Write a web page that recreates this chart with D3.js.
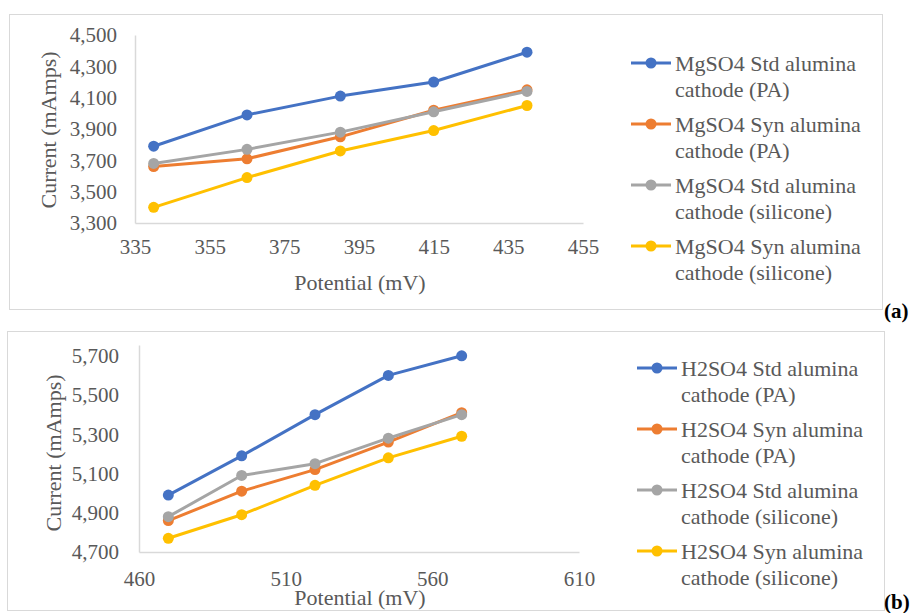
<!DOCTYPE html>
<html>
<head>
<meta charset="utf-8">
<script src="https://cdn.jsdelivr.net/npm/d3@7"></script>
<style>
  body { margin: 0; background: #fff; }
  svg { display: block; }
  svg text { font-family: "Liberation Serif", "Times New Roman", Tinos, "DejaVu Serif", serif !important; }
</style>
</head>
<body>
<div id="chart"></div>
<script>
// DATA
const colors = ["#4472C4", "#ED7D31", "#A5A5A5", "#FFC000"];

// (a) MgSO4
const mgPotential = [340, 365, 390, 415, 440];
const mgNames = [
  ["MgSO4 Std alumina", "cathode (PA)"],
  ["MgSO4 Syn alumina", "cathode (PA)"],
  ["MgSO4 Std alumina", "cathode (silicone)"],
  ["MgSO4 Syn alumina", "cathode (silicone)"]
];
const mgStdPA = [3790, 3990, 4110, 4200, 4390];
const mgSynPA = [3660, 3710, 3850, 4020, 4150];
const mgStdSil = [3680, 3770, 3880, 4010, 4140];
const mgSynSil = [3400, 3590, 3760, 3890, 4050];
const mgXTicks = [335, 355, 375, 395, 415, 435, 455];
const mgYTicks = [3300, 3500, 3700, 3900, 4100, 4300, 4500];

// (b) H2SO4
const hPotential = [470, 495, 520, 545, 570];
const hNames = [
  ["H2SO4 Std alumina", "cathode (PA)"],
  ["H2SO4 Syn alumina", "cathode (PA)"],
  ["H2SO4 Std alumina", "cathode (silicone)"],
  ["H2SO4 Syn alumina", "cathode (silicone)"]
];
const hStdPA = [4990, 5190, 5400, 5600, 5700];
const hSynPA = [4860, 5010, 5120, 5260, 5410];
const hStdSil = [4880, 5090, 5150, 5280, 5400];
const hSynSil = [4770, 4890, 5040, 5180, 5290];
const hXTicks = [460, 510, 560, 610];
const hYTicks = [4700, 4900, 5100, 5300, 5500, 5700];

const width = 914, height = 613;
const textColor = "#595959";

const svg = d3.select("#chart").append("svg")
  .attr("width", width)
  .attr("height", height);

function drawPanel(cfg) {
  const g = svg.append("g");

  // frame
  g.append("rect")
    .attr("x", cfg.box[0] + 0.5).attr("y", cfg.box[1] + 0.5)
    .attr("width", cfg.box[2] - cfg.box[0]).attr("height", cfg.box[3] - cfg.box[1])
    .attr("fill", "#fff").attr("stroke", "#d9d9d9").attr("stroke-width", 1);

  const x = d3.scaleLinear(cfg.xDomain, [cfg.plot.left, cfg.plot.right]);
  const y = d3.scaleLinear(cfg.yDomain, [cfg.plot.bottom, cfg.plot.top]);

  // axes
  g.append("g")
    .attr("transform", `translate(0,${cfg.plot.bottom})`)
    .call(d3.axisBottom(x).tickValues(cfg.xTicks).tickSize(0).tickPadding(cfg.xPad))
    .call(a => a.select(".domain").attr("stroke", "#d9d9d9").attr("stroke-width", 1.5))
    .call(a => a.selectAll("text").attr("fill", textColor).style("font-size", "21px"));

  g.append("g")
    .attr("transform", `translate(${cfg.plot.left},0)`)
    .call(d3.axisLeft(y).tickValues(cfg.yTicks).tickFormat(d3.format(",")).tickSize(0).tickPadding(cfg.yPad))
    .call(a => a.select(".domain").attr("stroke", "#d9d9d9").attr("stroke-width", 1.5))
    .call(a => a.selectAll("text").attr("fill", textColor).style("font-size", "21px"));

  // axis titles
  g.append("text")
    .attr("x", cfg.xTitle[0]).attr("y", cfg.xTitle[1])
    .attr("dy", "0.35em").attr("text-anchor", "middle")
    .attr("fill", textColor).style("font-size", "22px")
    .text("Potential (mV)");
  g.append("text")
    .attr("transform", `translate(${cfg.yTitle[0]},${cfg.yTitle[1]}) rotate(-90)`)
    .attr("dy", "0.35em").attr("text-anchor", "middle")
    .attr("fill", textColor).style("font-size", "22px")
    .text("Current (mAmps)");

  const line = d3.line()
    .x((d, i) => x(cfg.xs[i]))
    .y(d => y(d));

  cfg.series.forEach((vals, si) => {
    const sg = g.append("g");
    sg.append("path")
      .attr("d", line(vals))
      .attr("fill", "none")
      .attr("stroke", colors[si])
      .attr("stroke-width", 3)
      .attr("stroke-linejoin", "round");
    sg.selectAll("circle")
      .data(vals)
      .join("circle")
        .attr("cx", (d, i) => x(cfg.xs[i]))
        .attr("cy", d => y(d))
        .attr("r", 5.5)
        .attr("fill", colors[si]);
  });

  // legend
  const lg = g.append("g")
    .attr("transform", `translate(${cfg.legend[0]},${cfg.legend[1]})`);
  cfg.names.forEach((name, i) => {
    const row = lg.append("g").attr("transform", `translate(0,${i * 61})`);
    row.append("line")
      .attr("x1", 0).attr("x2", 40).attr("y1", 0).attr("y2", 0)
      .attr("stroke", colors[i]).attr("stroke-width", 3);
    row.append("circle").attr("cx", 20).attr("cy", 0).attr("r", 5.5).attr("fill", colors[i]);
    row.selectAll("text")
      .data(name)
      .join("text")
        .attr("x", 44)
        .attr("y", (d, j) => j * 26.5)
        .attr("dy", "0.35em")
        .attr("fill", textColor)
        .style("font-size", "22px")
        .text(d => d);
  });

  // panel tag
  svg.append("text")
    .attr("x", cfg.tag[0]).attr("y", cfg.tag[1])
    .attr("text-anchor", "start")
    .attr("fill", "#000")
    .style("font-size", "21px").style("font-weight", "bold")
    .text(cfg.tagText);
}

drawPanel({
  box: [9, 14, 882, 309],
  plot: { left: 135, right: 583, top: 35, bottom: 223 },
  xDomain: [335, 455], yDomain: [3300, 4500],
  xTicks: mgXTicks, yTicks: mgYTicks,
  xPad: 16, yPad: 18,
  xTitle: [360, 282], yTitle: [48, 130],
  xs: mgPotential,
  series: [mgStdPA, mgSynPA, mgStdSil, mgSynSil],
  names: mgNames,
  legend: [631, 63],
  tag: [884, 318], tagText: "(a)"
});

drawPanel({
  box: [7, 331, 884, 610],
  plot: { left: 139, right: 579, top: 345, bottom: 552 },
  xDomain: [460, 610], yDomain: [4700, 5755],
  xTicks: hXTicks, yTicks: hYTicks,
  xPad: 19, yPad: 20,
  xTitle: [360, 597], yTitle: [53, 453],
  xs: hPotential,
  series: [hStdPA, hSynPA, hStdSil, hSynSil],
  names: hNames,
  legend: [637, 368],
  tag: [884, 609], tagText: "(b)"
});
</script>
</body>
</html>
